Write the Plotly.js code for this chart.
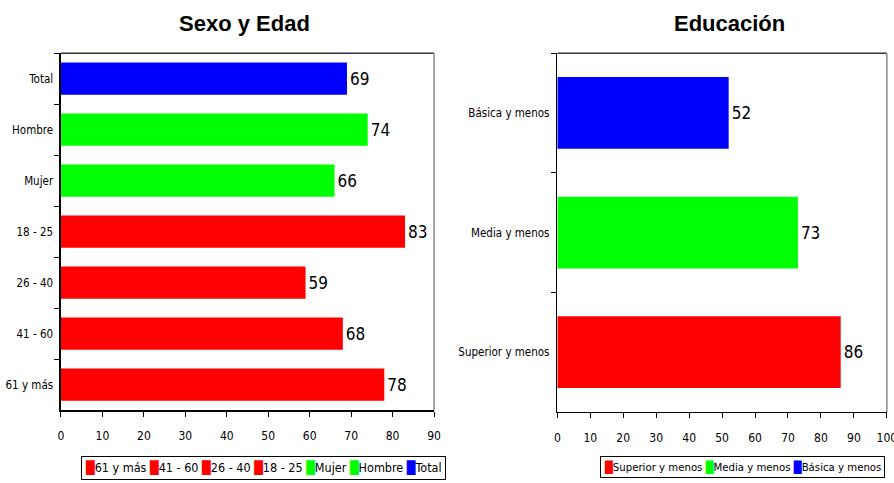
<!DOCTYPE html>
<html><head><meta charset="utf-8">
<script src="https://cdn.plot.ly/plotly-3.0.1.min.js"></script>
<style>html,body{margin:0;padding:0;background:#fff}#c{width:894px;height:483px}</style>
</head><body><div id="c"></div>
<script>
// Left chart: Sexo y Edad (bottom to top order)
const sexCats = ['61 y más', '41 - 60', '26 - 40', '18 - 25', 'Mujer', 'Hombre', 'Total'];
const sexVals = [78, 68, 59, 83, 66, 74, 69];
const sexColors = ['#ff0000', '#ff0000', '#ff0000', '#ff0000', '#00ff00', '#00ff00', '#0000ff'];
// Right chart: Educación (bottom to top order)
const eduCats = ['Superior y menos', 'Media y menos', 'Básica y menos'];
const eduVals = [86, 73, 52];
const eduColors = ['#ff0000', '#00ff00', '#0000ff'];
const sexTicks = [0, 10, 20, 30, 40, 50, 60, 70, 80, 90];
const eduTicks = [0, 10, 20, 30, 40, 50, 60, 70, 80, 90, 100];

const NF = '"Liberation Sans Narrow", "Arial Narrow", "DejaVu Sans Condensed", "Liberation Sans", Arial, sans-serif';
const traces = [];
sexCats.forEach((c, i) => {
  traces.push({type: 'bar', orientation: 'h', y: [c], x: [sexVals[i]], name: c,
    marker: {color: sexColors[i]}, width: 0.63, text: [String(sexVals[i])],
    textposition: 'outside', cliponaxis: false,
    textfont: {family: NF, size: 17, color: '#000'},
    xaxis: 'x', yaxis: 'y', hoverinfo: 'x+y'});
});
eduCats.forEach((c, i) => {
  traces.push({type: 'bar', orientation: 'h', y: [c], x: [eduVals[i]], name: c,
    marker: {color: eduColors[i]}, width: 0.6, text: [String(eduVals[i])],
    textposition: 'outside', cliponaxis: false,
    textfont: {family: NF, size: 17, color: '#000'},
    xaxis: 'x2', yaxis: 'y2', hoverinfo: 'x+y'});
});

function legendText(cats, colors) {
  return cats.map((c, i) => '<span style="color:' + colors[i] + '">█</span>' + c).join(' ');
}

const xCommon = {showgrid: false, zeroline: false, ticks: 'outside', ticklen: 5, tickcolor: '#000',
  showline: true, linecolor: '#000', linewidth: 1.5, tickmode: 'array', automargin: false,
  ticklabeloverflow: 'allow',
  tickfont: {family: NF, size: 12, color: '#000'}, ticklabelstandoff: 9, fixedrange: true};
const yCommon = {showgrid: false, zeroline: false, ticks: 'outside', ticklen: 5, tickcolor: '#000',
  tickson: 'boundaries', showline: true, linecolor: '#000', linewidth: 1.5, automargin: false,
  categoryorder: 'array', tickfont: {family: NF, size: 11.5, color: '#000'}, ticklabelstandoff: 4, fixedrange: true};

const layout = {
  width: 894, height: 483, margin: {l: 0, r: 0, t: 0, b: 0, pad: 0, autoexpand: false},
  paper_bgcolor: '#fff', plot_bgcolor: '#fff', barmode: 'overlay', showlegend: false,
  xaxis: Object.assign({}, xCommon, {domain: [0.0682, 0.4855], range: [0, 90], tickvals: sexTicks, anchor: 'y'}),
  yaxis: Object.assign({}, yCommon, {domain: [0.151, 0.89], categoryarray: sexCats, anchor: 'x'}),
  xaxis2: Object.assign({}, xCommon, {domain: [0.6234, 0.992], range: [0, 100], tickvals: eduTicks, anchor: 'y2'}),
  yaxis2: Object.assign({}, yCommon, {domain: [0.147, 0.89], categoryarray: eduCats, anchor: 'x2'}),
  annotations: [
    {text: '<b>Sexo y Edad</b>', xref: 'paper', yref: 'paper', x: 245 / 894, y: 1 - 23 / 483,
      xanchor: 'center', yanchor: 'middle', showarrow: false,
      font: {family: 'Liberation Sans, Arial, sans-serif', size: 22, color: '#000'}},
    {text: '<b>Educación</b>', xref: 'paper', yref: 'paper', x: 729 / 894, y: 1 - 23 / 483,
      xanchor: 'center', yanchor: 'middle', showarrow: false,
      font: {family: 'Liberation Sans, Arial, sans-serif', size: 22, color: '#000'}},
    {text: legendText(sexCats, sexColors), xref: 'paper', yref: 'paper', x: 81 / 894, y: 1 - 456 / 483,
      xanchor: 'left', yanchor: 'top', showarrow: false, bordercolor: '#000', borderwidth: 1,
      borderpad: 3, bgcolor: '#fff', font: {family: NF, size: 12.5, color: '#000'}},
    {text: legendText(eduCats, eduColors), xref: 'paper', yref: 'paper', x: 600 / 894, y: 1 - 456 / 483,
      xanchor: 'left', yanchor: 'top', showarrow: false, bordercolor: '#000', borderwidth: 1,
      borderpad: 3, bgcolor: '#fff', font: {family: NF, size: 11.3, color: '#000'}}
  ],
  shapes: [
    {type: 'line', xref: 'x domain', yref: 'y domain', x0: 0, x1: 1, y0: 1, y1: 1, line: {color: '#333', width: 1.5}},
    {type: 'line', xref: 'x domain', yref: 'y domain', x0: 1, x1: 1, y0: 0, y1: 1, line: {color: '#888', width: 1.5}},
    {type: 'line', xref: 'x2 domain', yref: 'y2 domain', x0: 0, x1: 1, y0: 1, y1: 1, line: {color: '#333', width: 1.5}},
    {type: 'line', xref: 'x2 domain', yref: 'y2 domain', x0: 1, x1: 1, y0: 0, y1: 1, line: {color: '#888', width: 1.5}}
  ]
};
Plotly.newPlot('c', traces, layout, {displayModeBar: false, staticPlot: true});
</script></body></html>
